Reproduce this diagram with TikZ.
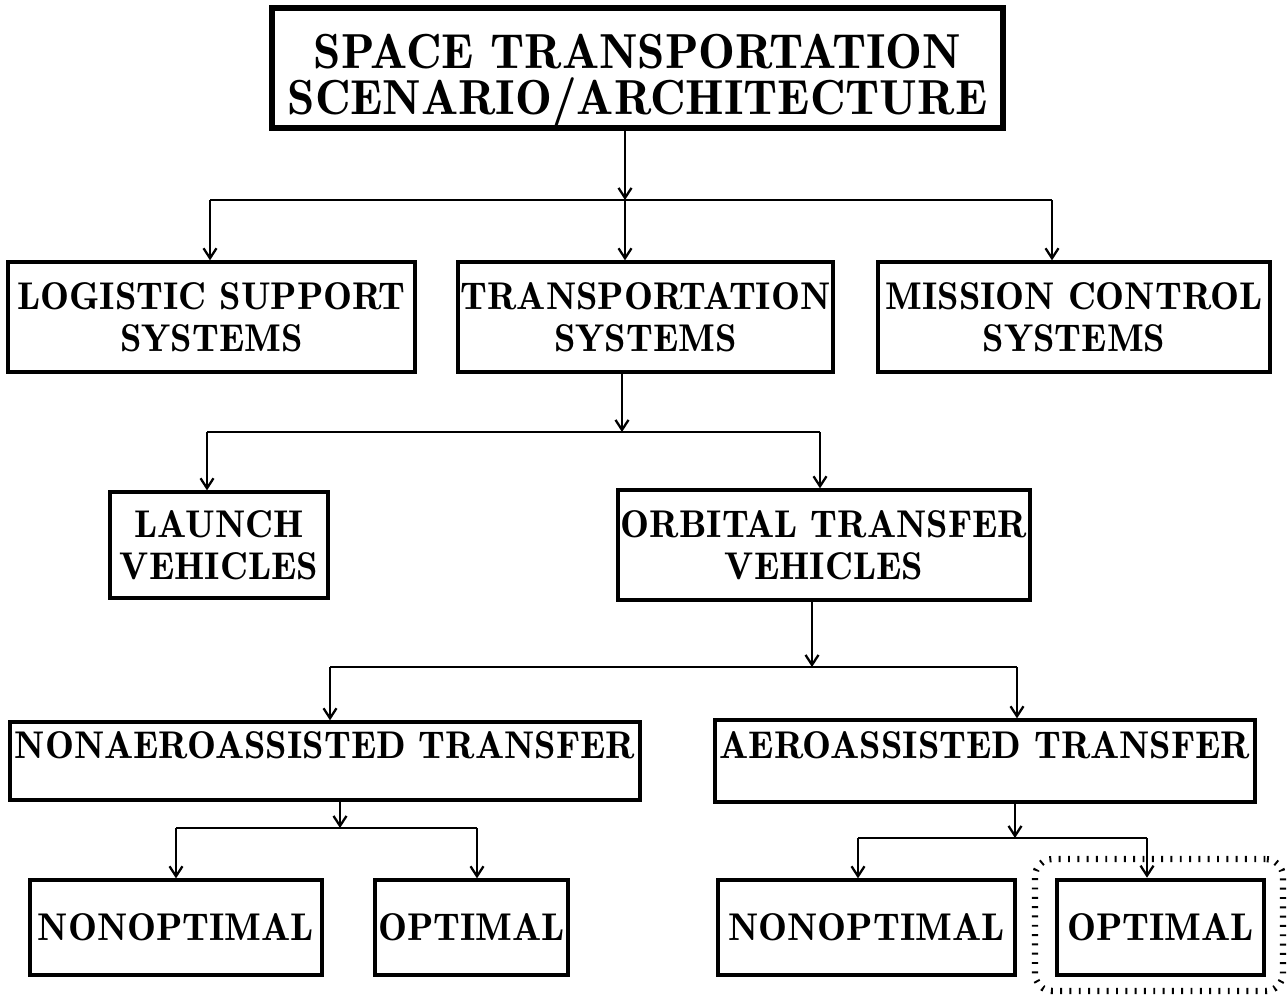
\documentclass[tikz,border=0pt]{standalone}
\usepackage{fontspec}
\newfontfamily\chartfont{lmromandemi10-regular.otf}
\usetikzlibrary{arrows.meta}
\begin{document}
\begin{tikzpicture}[x=0.02cm,y=-0.02cm,
  box/.style={draw, line width=1.9pt, align=center, inner sep=0pt,
    font=\chartfont\fontsize{22}{23.8}\selectfont},
  titlebox/.style={box, line width=3pt, font=\chartfont\fontsize{28}{26}\selectfont},
  link/.style={line width=1.3pt},
  arr/.style={link, -{Straight Barb[length=0.2cm,width=0.26cm]}},
  highlight/.style={draw, line width=3.6pt, dash pattern=on 1.1pt off 4.2pt, rounded corners=0.35cm},
]
\useasboundingbox (0,0) rectangle (1287,998);

% boxes
\node[titlebox, minimum width=14.62cm, minimum height=2.4cm] (top) at (637.5,68)
  {\rule{0pt}{34pt}SPACE TRANSPORTATION\\SCENARIO/ARCHITECTURE};

\node[box, minimum width=8.14cm, minimum height=2.2cm] (log) at (211.5,317)
  {LOGISTIC SUPPORT\\SYSTEMS};
\node[box, minimum width=7.5cm, minimum height=2.2cm] (tra) at (645.5,317)
  {TRANSPORTATION\\SYSTEMS};
\node[box, minimum width=7.84cm, minimum height=2.2cm] (mis) at (1074,317)
  {MISSION CONTROL\\SYSTEMS};

\node[box, minimum width=4.36cm, minimum height=2.12cm] (lau) at (219,545)
  {LAUNCH\\VEHICLES};
\node[box, minimum width=8.24cm, minimum height=2.2cm] (orb) at (824,545)
  {ORBITAL TRANSFER\\VEHICLES};

\node[box, minimum width=12.6cm, minimum height=1.56cm] (nae) at (325,761)
  {NONAEROASSISTED TRANSFER\rule[-18pt]{0pt}{18pt}};
\node[box, minimum width=10.8cm, minimum height=1.64cm] (aer) at (985,761)
  {AEROASSISTED TRANSFER\rule[-18pt]{0pt}{18pt}};

\node[box, minimum width=5.84cm, minimum height=1.9cm] (non1) at (176,927.5) {NONOPTIMAL};
\node[box, minimum width=3.86cm, minimum height=1.9cm] (opt1) at (471.5,927.5) {OPTIMAL};
\node[box, minimum width=5.94cm, minimum height=1.9cm] (non2) at (866.5,927.5) {NONOPTIMAL};
\node[box, line width=2.6pt, minimum width=4.14cm, minimum height=1.9cm] (opt2) at (1160.5,927.5) {OPTIMAL};

% dotted frame round the selected branch
\node[highlight, minimum width=4.96cm, minimum height=2.64cm] (sel) at (1159,925) {};

% junction points
\coordinate (j1)  at (625,200);  \coordinate (j1a) at (210,200);  \coordinate (j1c) at (1052,200);
\coordinate (j2)  at (622,432);  \coordinate (j2a) at (207,432);  \coordinate (j2b) at (820,432);
\coordinate (j3)  at (812,667);  \coordinate (j3a) at (330,667);  \coordinate (j3b) at (1017,667);
\coordinate (j4)  at (340,828);  \coordinate (j4a) at (176,828);  \coordinate (j4b) at (477,828);
\coordinate (j5)  at (1015,838); \coordinate (j5a) at (858,838);  \coordinate (j5b) at (1147,838);

% level 1
\draw[arr] (top.south -| j1) -- (j1);
\draw[link] (j1a) -- (j1c);
\draw[arr] (j1a) -- (j1a |- log.north);
\draw[arr] (j1) -- (j1 |- tra.north);
\draw[arr] (j1c) -- (j1c |- mis.north);

% level 2
\draw[arr] (tra.south -| j2) -- (j2);
\draw[link] (j2a) -- (j2b);
\draw[arr] (j2a) -- (j2a |- lau.north);
\draw[arr] (j2b) -- (j2b |- orb.north);

% level 3
\draw[arr] (orb.south -| j3) -- (j3);
\draw[link] (j3a) -- (j3b);
\draw[arr] (j3a) -- (j3a |- nae.north);
\draw[arr] (j3b) -- (j3b |- aer.north);

% level 4
\draw[arr] (nae.south -| j4) -- (j4);
\draw[link] (j4a) -- (j4b);
\draw[arr] (j4a) -- (j4a |- non1.north);
\draw[arr] (j4b) -- (j4b |- opt1.north);

\draw[arr] (aer.south -| j5) -- (j5);
\draw[link] (j5a) -- (j5b);
\draw[arr] (j5a) -- (j5a |- non2.north);
\draw[arr] (j5b) -- (j5b |- opt2.north);
\end{tikzpicture}
\end{document}
